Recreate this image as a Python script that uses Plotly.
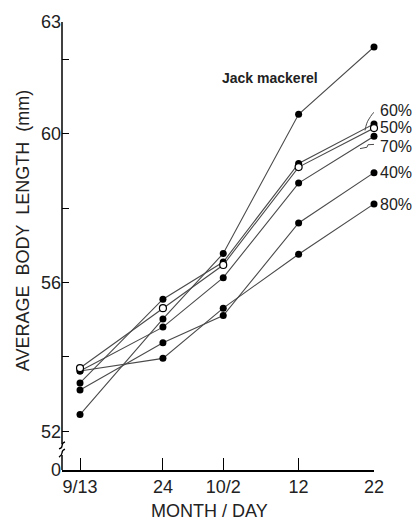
import plotly.graph_objects as go
import pandas as pd

# ---- data ----
dates = ["1975-09-13", "1975-09-24", "1975-10-02", "1975-10-12", "1975-10-22"]
tick_labels = ["9/13", "24", "10/2", "12", "22"]

jack_mackerel = [52.45, 55.02, 56.78, 60.52, 62.33]
pct60 = [53.30, 55.55, 56.55, 59.20, 60.26]
pct50 = [53.70, 55.31, 56.47, 59.10, 60.15]
pct70 = [53.62, 54.80, 56.13, 58.67, 59.93]
pct40 = [53.11, 54.38, 55.11, 57.60, 58.95]
pct80 = [53.62, 53.96, 55.31, 56.76, 58.11]

y_ticks = [52, 54, 56, 58, 60, 62, 63]
y_tick_labels = ["52", "", "56", "", "60", "", "63"]
y_zero_pos = 50.96          # where the broken axis shows "0"
y_break = (51.36, 51.66)    # gap in the y axis line

FONT = "Liberation Sans"
LINE = "#4a4a4a"

dt = pd.to_datetime(dates)
x_start = dt[0] - pd.Timedelta(days=2.39)
x_end = dt[-1]

fig = go.Figure()

series = [
    ("Jack mackerel", jack_mackerel, False),
    ("80%", pct80, False),
    ("40%", pct40, False),
    ("70%", pct70, False),
    ("60%", pct60, False),
    ("50%", pct50, True),
]
for name, vals, is_open in series:
    fig.add_trace(go.Scatter(
        x=dt, y=vals, name=name, mode="lines+markers",
        line=dict(color=LINE, width=1.1),
        marker=dict(size=7, color="white" if is_open else "black",
                    line=dict(color="black", width=1.2 if is_open else 0)),
        cliponaxis=False, showlegend=False,
    ))

# percentage labels at the right end of each line
end_labels = [("60%", pct60, 13), ("50%", pct50, 1), ("70%", pct70, -10),
              ("40%", pct40, 0), ("80%", pct80, -1)]
annotations = []
for txt, vals, ys in end_labels:
    annotations.append(dict(
        x=dt[-1], y=vals[-1], xref="x", yref="y", text=txt, showarrow=False,
        xanchor="left", yanchor="middle", xshift=4, yshift=ys,
        font=dict(family=FONT, size=16, color="#222")))

annotations.append(dict(
    x=0.667, y=0.874, xref="paper", yref="paper", text="<b>Jack mackerel</b>",
    showarrow=False, xanchor="center", yanchor="middle",
    font=dict(family=FONT, size=14, color="#222")))

annotations.append(dict(
    x=-0.125, y=0.533, xref="paper", yref="paper",
    text="AVERAGE  BODY  LENGTH  (mm)", textangle=-90, showarrow=False,
    xanchor="center", yanchor="middle",
    font=dict(family=FONT, size=18, color="#222")))

annotations.append(dict(
    x=0.474, y=-0.091, xref="paper", yref="paper", text="MONTH / DAY",
    showarrow=False, xanchor="center", yanchor="middle",
    font=dict(family=FONT, size=18, color="#222")))

shapes = [
    # broken y axis line
    dict(type="line", xref="paper", yref="y", x0=0, x1=0,
         y0=y_zero_pos, y1=y_break[0], line=dict(color="black", width=1.5)),
    dict(type="line", xref="paper", yref="y", x0=0, x1=0,
         y0=y_break[1], y1=63, line=dict(color="black", width=1.5)),
    dict(type="path", xref="paper", yref="y", xsizemode="pixel", xanchor=0,
         ysizemode="pixel", yanchor=y_break[0],
         path="M -3,-2 Q 0,0 0,2 Q 0,5 3,6", line=dict(color="black", width=1.3)),
    dict(type="path", xref="paper", yref="y", xsizemode="pixel", xanchor=0,
         ysizemode="pixel", yanchor=y_break[1],
         path="M -3,-5 Q 0,-4 0,-2 Q 0,1 3,2", line=dict(color="black", width=1.3)),
    # leader for 60%
    dict(type="path", xref="x", yref="y", xsizemode="pixel", xanchor=dt[-1],
         ysizemode="pixel", yanchor=pct60[-1],
         path="M -9,-6.5 C -8,-1 -7,2 -5,5 C -3,8 -1,12 3,13.5",
         line=dict(color=LINE, width=1)),
    # leader for 70%
    dict(type="path", xref="x", yref="y", xsizemode="pixel", xanchor=dt[-1],
         ysizemode="pixel", yanchor=pct70[-1],
         path="M -14,-12.4 L -7,-11 L -6,-8.5 L 3,-8",
         line=dict(color=LINE, width=1)),
]

fig.update_layout(
    width=417, height=523,
    margin=dict(l=62, r=43, t=18, b=53),
    paper_bgcolor="white", plot_bgcolor="white",
    font=dict(family=FONT, size=18, color="#222"),
    xaxis=dict(
        type="date", range=[x_start, x_end],
        tickmode="array", tickvals=dt, ticktext=tick_labels,
        ticks="inside", ticklen=12, tickwidth=1.3, tickcolor="black",
        showline=True, linecolor="black", linewidth=1.5,
        showgrid=False, zeroline=False,
        tickfont=dict(family=FONT, size=18, color="#222"),
    ),
    yaxis=dict(
        range=[y_zero_pos, 63],
        tickmode="array", tickvals=[y_zero_pos] + y_ticks,
        ticktext=["0"] + y_tick_labels,
        ticks="inside", ticklen=7, tickwidth=1.3, tickcolor="black",
        showline=False, showgrid=False, zeroline=False,
        tickfont=dict(family=FONT, size=18, color="#222"),
    ),
    annotations=annotations,
    shapes=shapes,
)

fig.write_html("out.html")
